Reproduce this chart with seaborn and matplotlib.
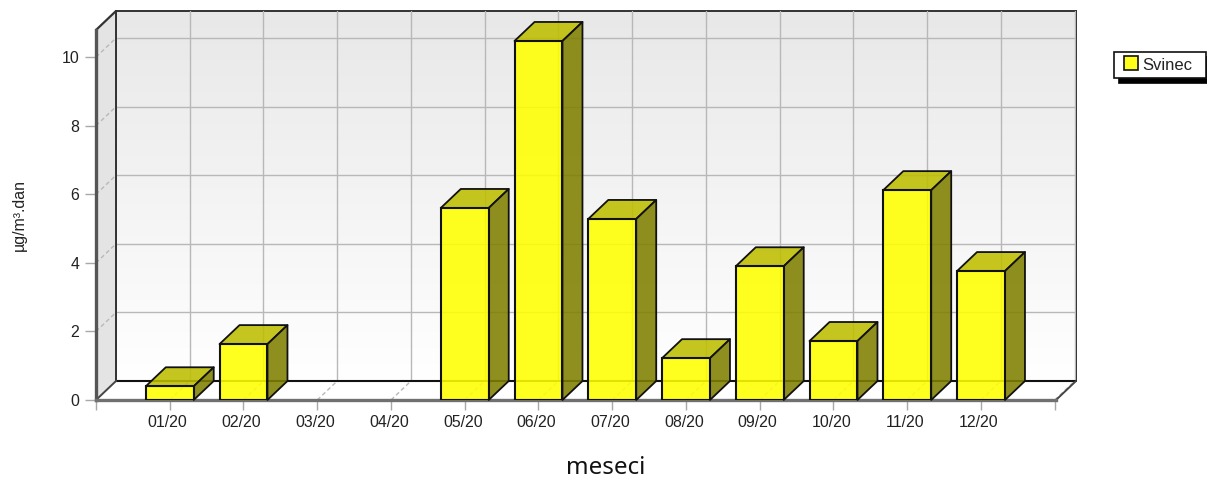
from __future__ import annotations

import matplotlib
matplotlib.use("Agg")

import matplotlib.pyplot as plt
import numpy as np
import pandas as pd
import seaborn as sns
from matplotlib.colors import LinearSegmentedColormap, to_rgba
from matplotlib.legend_handler import HandlerPatch
from matplotlib.patches import Patch, Polygon, Rectangle
from matplotlib.transforms import ScaledTranslation

MONTHS = ["01/20", "02/20", "03/20", "04/20", "05/20", "06/20",
          "07/20", "08/20", "09/20", "10/20", "11/20", "12/20"]
SVINEC = [0.4, 1.63, np.nan, np.nan, 5.6, 10.47, 5.28, 1.22, 3.9, 1.72, 6.12, 3.76]
Y_TICKS = [0, 2, 4, 6, 8, 10]
X_LABEL = "meseci"
Y_LABEL = "µg/m³.dan"
SERIES = "Svinec"

W, H = 1207, 480
DEPTH_X, DEPTH_Y = 20, 19
XMAX = 12.017
YMAX = 10.79
GRID = "#b8b8b8"


def _axes(fig, left, bottom_px, **kw):
    ax = fig.add_axes([left / W, (H - bottom_px) / H, 960 / W, 370 / H], **kw)
    ax.set_xlim(-1, XMAX)
    ax.set_ylim(0, YMAX)
    return ax


def _draw_back_wall(fig):
    ax = _axes(fig, 96 + DEPTH_X, 400 - DEPTH_Y)
    cmap = LinearSegmentedColormap.from_list("wall", ["#e8e8e8", "#ffffff"])
    ramp = np.linspace(0, 1, 256).reshape(-1, 1)
    ax.imshow(ramp, cmap=cmap, aspect="auto", extent=(-1, XMAX, 0, YMAX), zorder=0)
    ax.set_xticks(range(0, 13))
    ax.set_yticks(Y_TICKS)
    ax.grid(True, color=GRID, linewidth=1.0)
    ax.set_axisbelow(False)
    ax.tick_params(length=0, labelbottom=False, labelleft=False)
    for spine in ax.spines.values():
        spine.set_color("#333333")
        spine.set_linewidth(1.4)
    return ax


def _draw_floor_and_side(ax):
    to_px = ax.transData.transform
    x0, y0 = to_px((-1, 0))
    x1, _ = to_px((XMAX, 0))
    _, y_top = to_px((-1, YMAX))

    def poly(points, **kw):
        ax.add_patch(Polygon(points, closed=True, transform=None, clip_on=False, **kw))

    dx, dy = DEPTH_X, DEPTH_Y
    poly([(x0, y0), (x1, y0), (x1 + dx, y0 + dy), (x0 + dx, y0 + dy)],
         facecolor="white", edgecolor="none", zorder=0.5)
    poly([(x0, y0), (x0 + dx, y0 + dy), (x0 + dx, y_top + dy), (x0, y_top)],
         facecolor="#e4e4e4", edgecolor="none", zorder=0.5)

    def line(xs, ys, **kw):
        ax.plot(xs, ys, transform=None, clip_on=False, **kw)

    for tick in range(0, 13):
        px, _ = to_px((tick, 0))
        line([px, px + dx], [y0, y0 + dy], color=GRID, lw=1, ls=(0, (3, 2)), zorder=0.6)
    for tick in Y_TICKS[1:]:
        _, py = to_px((0, tick))
        line([x0, x0 + dx], [py, py + dy], color=GRID, lw=1, ls=(0, (3, 2)), zorder=0.6)

    line([x0 + dx, x1 + dx], [y0 + dy, y0 + dy], color="#111111", lw=1.5, zorder=0.7)
    line([x0 + dx, x0 + dx], [y0 + dy, y_top + dy], color="#333333", lw=1.4, zorder=0.7)
    line([x1, x1 + dx], [y0, y0 + dy], color="#444444", lw=1.4, zorder=0.7)
    line([x0, x0 + dx], [y0, y0 + dy], color="#444444", lw=1.4, zorder=0.7)
    line([x0, x0 + dx], [y_top, y_top + dy], color="#333333", lw=1.6, zorder=0.7)


def _extrude_bars(ax):
    dx, dy = DEPTH_X, DEPTH_Y
    for bar in list(ax.patches):
        if not isinstance(bar, Rectangle) or not np.isfinite(bar.get_height()):
            continue
        (xa, ya), (xb, yb) = ax.transData.transform(
            [(bar.get_x(), 0), (bar.get_x() + bar.get_width(), bar.get_height())]
        )
        top = [(xa, yb), (xb, yb), (xb + dx, yb + dy), (xa + dx, yb + dy)]
        side = [(xb, ya), (xb + dx, ya + dy), (xb + dx, yb + dy), (xb, yb)]
        for pts, colour in ((top, "#bebe00"), (side, "#808000")):
            ax.add_patch(Polygon(pts, closed=True, transform=None, clip_on=False,
                                 facecolor=to_rgba(colour, 0.88), edgecolor="#111111",
                                 linewidth=1.3, joinstyle="round", zorder=2.5))
        bar.set_facecolor(to_rgba("#ffff00", 0.88))
        bar.set_edgecolor("#111111")
        bar.set_linewidth(1.5)
        bar.set_zorder(3)


def _swatch(legend, orig_handle, xdescent, ydescent, width, height, fontsize):
    # square sits 5 px into the handle box, as in the original legend
    side = 14 * 72 / 100
    return Rectangle((5 * 72 / 100, (height - side) / 2), side, side)


def main() -> None:
    sns.set_theme(style="white")
    plt.rcParams["font.family"] = ["Liberation Sans", "DejaVu Sans"]

    fig = plt.figure(figsize=(W / 100, H / 100), dpi=100, facecolor="white")
    _draw_back_wall(fig)

    ax = _axes(fig, 96, 400)
    ax.patch.set_alpha(0)
    frame = pd.DataFrame({"month": MONTHS, "value": SVINEC})
    sns.barplot(data=frame, x="month", y="value", order=MONTHS, color="#ffff00",
                width=0.65, ax=ax)
    ax.set_xlim(-1, XMAX)
    ax.set_ylim(0, YMAX)
    ax.figure.canvas.draw()

    _draw_floor_and_side(ax)
    _extrude_bars(ax)

    ax.set_xticks(range(-1, 13), [""] + MONTHS + [""])
    ax.set_yticks(Y_TICKS)
    ax.tick_params(axis="x", bottom=True, length=7, width=1, color="#a8a8a8", pad=4,
                   labelsize=11.4, labelcolor="#222222")
    ax.tick_params(axis="y", left=True, length=8, width=1, color="#a8a8a8", pad=4,
                   labelsize=11.4, labelcolor="#222222")
    nudge = ScaledTranslation(-2 / 100, 0, fig.dpi_scale_trans)
    for label in ax.get_xticklabels():
        label.set_transform(label.get_transform() + nudge)
    ax.set_xlabel("")
    ax.set_ylabel("")
    for name in ("top", "right"):
        ax.spines[name].set_visible(False)
    ax.spines["left"].set_color("#555555")
    ax.spines["left"].set_linewidth(2.4)
    ax.spines["bottom"].set_color("#707070")
    ax.spines["bottom"].set_linewidth(2.4)
    for spine in ("left", "bottom"):
        ax.spines[spine].set_zorder(1)

    fig.text(606 / W, 1 - 468 / H, X_LABEL, ha="center", va="center", fontsize=17.4,
             family="Noto Sans", color="#111111")
    fig.text(19 / W, 1 - 215 / H, Y_LABEL, rotation=90, ha="center", va="center",
             fontsize=11.4, color="#222222")

    handle = Patch(facecolor="#ffff1a", edgecolor="#111111", linewidth=1.2, label=SERIES)
    leg = fig.legend(
        handles=[handle], loc="upper left",
        bbox_to_anchor=(1114 / W, 1 - 78 / H, 92 / W, 26 / H), mode="expand",
        borderaxespad=0, fancybox=False, framealpha=1, edgecolor="#111111", fontsize=12,
        handlelength=1.15, handleheight=0.9, handletextpad=0.25, borderpad=0.32,
        handler_map={Patch: HandlerPatch(patch_func=_swatch)},
        shadow={"color": "black", "alpha": 1, "ox": 3.6, "oy": -3.6},
    )
    leg.get_frame().set_linewidth(1.2)
    for text in leg.get_texts():
        text.set_color("#222222")

    fig.savefig("out.png", dpi=100, facecolor="white")
    plt.close(fig)


if __name__ == "__main__":
    main()
